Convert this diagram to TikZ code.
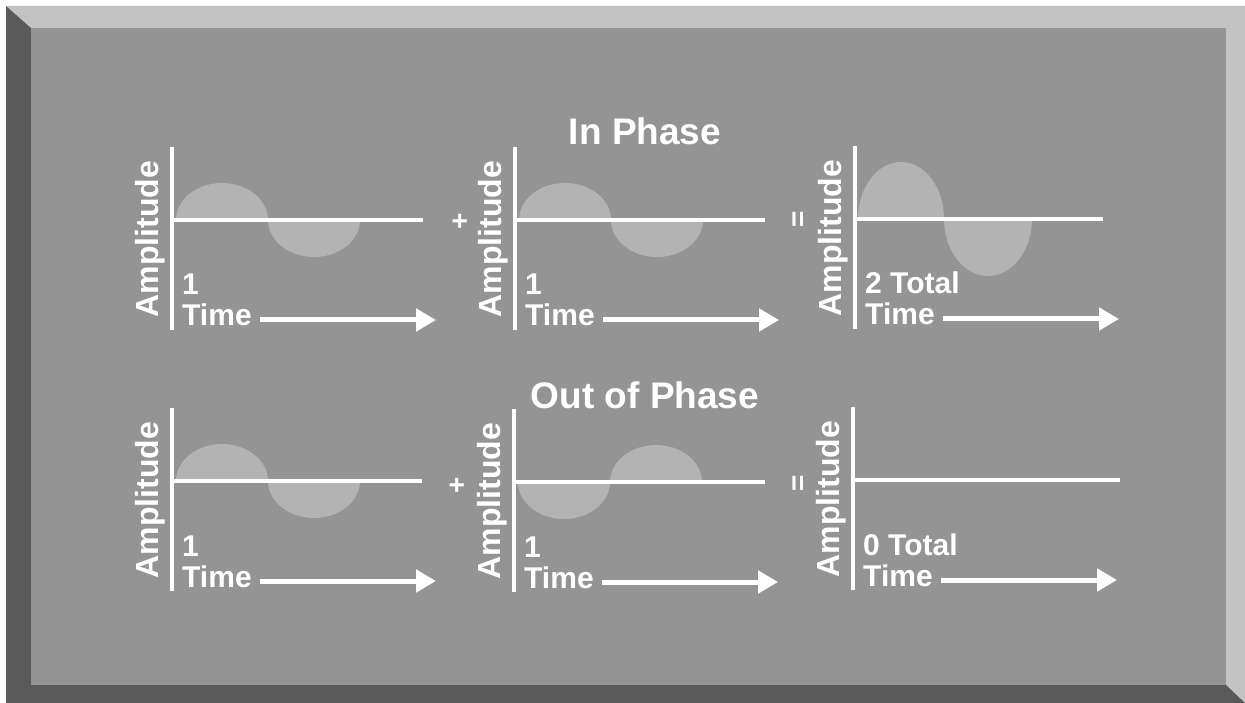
\documentclass[tikz,border=0pt]{standalone}
\usepackage{fontspec}
\setmainfont{Liberation Sans}
\usetikzlibrary{arrows.meta}
\definecolor{panelgray}{RGB}{148,148,148}
\definecolor{bevellight}{RGB}{195,195,195}
\definecolor{beveldark}{RGB}{90,90,90}
\definecolor{lobegray}{RGB}{179,179,179}
\begin{document}
\begin{tikzpicture}[x=1pt, y=-1pt,
    axis/.style={draw=white, line width=4.5pt},
    timearrow/.style={draw=white, line width=5pt, -{Triangle[length=20pt,width=22pt]}},
    lobe/.style={fill=lobegray},
    lbl/.style={text=white, font=\fontsize{30}{36}\selectfont\bfseries, inner sep=0pt, anchor=base west},
    amp/.style={text=white, font=\fontsize{32}{38}\selectfont\bfseries, inner sep=0pt, rotate=90},
    title/.style={text=white, font=\fontsize{37}{44}\selectfont\bfseries, inner sep=0pt, anchor=base},
    sign/.style={text=white, font=\fontsize{28}{32}\selectfont\bfseries, inner sep=0pt, rotate=90}]
  \useasboundingbox (0,0) rectangle (1245,703);

  % 1. bevelled frame
  \fill[white] (0,0) rectangle (1245,703);
  \fill[bevellight] (6,6) -- (1245,6) -- (1245,703) -- (1226,685) -- (1226,28) -- (31,28) -- cycle;
  \fill[beveldark] (6,6) -- (31,28) -- (31,685) -- (1226,685) -- (1245,703) -- (6,703) -- cycle;
  \fill[panelgray] (31,28) rectangle (1226,685);

  % 2. wave lobes
  \foreach \ax/\ay/\sa in {172/220/1, 515/220/1, 172/481/1, 514/482/-1} {
    \fill[lobe] (\ax+4,\ay) arc[start angle=180, end angle={180+180*\sa}, x radius=46, y radius=37] -- cycle;
    \fill[lobe] (\ax+96,\ay) arc[start angle=180, end angle={180-180*\sa}, x radius=46, y radius=37] -- cycle;
  }
  \fill[lobe] (858,219) arc[start angle=180, end angle=360, x radius=43, y radius=57] -- cycle;
  \fill[lobe] (944,219) arc[start angle=180, end angle=0, x radius=44, y radius=57] -- cycle;

  % 3. axes, labels and time arrows
  \foreach \ax/\ay/\xl/\n/\num in {172/220/251/a/1, 515/220/250/b/1, 855/219/248/c/2 Total,
                                   172/481/250/d/1, 514/482/251/e/1, 853/480/267/f/0 Total} {
    \draw[axis] (\ax,\ay-73) -- (\ax,\ay+110);
    \draw[axis] (\ax,\ay) -- (\ax+\xl,\ay);
    \node[amp] (amp-\n) at (\ax-22,\ay+19) {Amplitude};
    \node[lbl] (num-\n) at (\ax+10,\ay+75) {\num};
    \node[lbl] (time-\n) at (\ax+10,\ay+106) {Time};
    \draw[timearrow] (\ax+88,\ay+100) -- (\ax+264,\ay+100);
  }

  % 4. operators and titles
  \node[sign] (plus-top) at (461,221) {+};
  \node[sign] (eq-top) at (800,219) {=};
  \node[sign] (plus-bot) at (458,485) {+};
  \node[sign] (eq-bot) at (800,483) {=};
  \node[title] (inphase) at (645,145) {In Phase};
  \node[title] (outphase) at (645,408) {Out of Phase};
\end{tikzpicture}
\end{document}
